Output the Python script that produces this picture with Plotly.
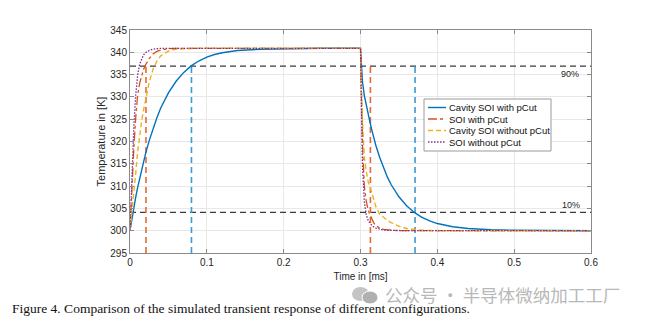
import plotly.graph_objects as go

# Sample times (ms) shared by all four transient curves
t_ms = [0, 0.0025, 0.005, 0.0075, 0.01, 0.0125, 0.015, 0.0175, 0.02, 0.025, 0.03, 0.035,
        0.04, 0.05, 0.06, 0.07, 0.08, 0.09, 0.1, 0.11, 0.12, 0.14, 0.17, 0.2, 0.25, 0.3,
        0.3025, 0.305, 0.3075, 0.31, 0.3125, 0.315, 0.3175, 0.32, 0.325, 0.33, 0.335, 0.34,
        0.35, 0.36, 0.37, 0.38, 0.39, 0.4, 0.42, 0.44, 0.47, 0.5, 0.55, 0.6]

# Temperatures in K
cavity_soi_pcut = [300, 302.8, 305.3, 307.6, 309.7, 311.7, 313.6, 315.4, 317.1, 320.2, 322.9, 325.3,
                   327.5, 330.9, 333.5, 335.5, 337.0, 338.1, 338.9, 339.5, 339.9, 340.4, 340.7, 340.8, 340.9, 340.9,
                   333.5, 330.3, 328.0, 326.0, 324.2, 322.4, 320.6, 319.1, 316.4, 314.0, 312.0, 310.3,
                   307.6, 305.6, 304.1, 303.0, 302.2, 301.6, 300.9, 300.5, 300.2, 300.1, 300.0, 300.0]

soi_pcut = [300, 310.0, 318.5, 325.5, 330.5, 333.0, 334.8, 336.1, 337.1, 338.6, 339.6, 340.2,
            340.5, 340.8, 340.9, 340.9, 340.9, 340.9, 340.9, 340.9, 340.9, 340.9, 340.9, 340.9, 340.9, 340.9,
            320.0, 310.0, 306.6, 304.6, 303.5, 302.5, 301.7, 301.1, 300.6, 300.3, 300.2, 300.1,
            300.0, 300.0, 300.0, 300.0, 300.0, 300.0, 300.0, 300.0, 300.0, 300.0, 300.0, 300.0]

cavity_soi_no_pcut = [300, 304.0, 308.0, 313.0, 317.8, 321.5, 324.4, 326.9, 329.2, 333.3, 336.2, 338.0,
                      339.2, 340.3, 340.7, 340.8, 340.9, 340.9, 340.9, 340.9, 340.9, 340.9, 340.9, 340.9, 340.9, 340.9,
                      325.0, 316.5, 313.3, 311.0, 309.8, 308.3, 306.9, 305.4, 303.7, 302.9, 302.3, 301.8,
                      301.0, 300.5, 300.25, 300.1, 300.05, 300.0, 300.0, 300.0, 300.0, 300.0, 300.0, 300.0]

soi_no_pcut = [300, 313.0, 323.5, 330.5, 335.0, 337.3, 338.6, 339.4, 339.9, 340.4, 340.7, 340.8,
               340.9, 340.9, 340.9, 340.9, 340.9, 340.9, 340.9, 340.9, 340.9, 340.9, 340.9, 340.9, 340.9, 340.9,
               315.0, 306.5, 303.6, 302.3, 301.6, 301.1, 300.8, 300.6, 300.3, 300.15, 300.1, 300.05,
               300.0, 300.0, 300.0, 300.0, 300.0, 300.0, 300.0, 300.0, 300.0, 300.0, 300.0, 300.0]

series_names = ["Cavity SOI with pCut", "SOI with pCut", "Cavity SOI without pCut", "SOI without pCut"]

# Threshold levels (K) and the crossing times marked with vertical guides (ms)
level_90 = 336.9
level_10 = 304.1
cross_times_cavity_pcut = [0.08, 0.371]
cross_times_soi_pcut = [0.0208, 0.3129]
y_floor = 295

x_ticks = [0, 0.1, 0.2, 0.3, 0.4, 0.5, 0.6]
y_ticks = [295, 300, 305, 310, 315, 320, 325, 330, 335, 340, 345]

BLUE = "#0072BD"
ORANGE = "#D95319"
YELLOW = "#EDB120"
PURPLE = "#7E2F8E"

W, H = 647, 326
ML, MR, MT, MB = 130, 56, 30, 73
PW, PH = W - ML - MR, H - MT - MB
FONT = "Liberation Sans, Arial"


def px_x(x):
    return (x - ML) / PW


def px_y(y):
    return (H - MB - y) / PH


fig = go.Figure()

# Threshold guides drawn first so the curves sit on top
for lvl in (level_90, level_10):
    fig.add_trace(go.Scatter(x=[x_ticks[0], x_ticks[-1]], y=[lvl, lvl], mode="lines",
                             line=dict(color="#3a3a3a", width=1.3, dash="6px,4px"),
                             showlegend=False, hoverinfo="skip"))
for tx in cross_times_cavity_pcut:
    fig.add_trace(go.Scatter(x=[tx, tx], y=[y_floor, level_90], mode="lines",
                             line=dict(color="#3b9ad9", width=1.6, dash="6px,4px"),
                             showlegend=False, hoverinfo="skip"))
for tx in cross_times_soi_pcut:
    fig.add_trace(go.Scatter(x=[tx, tx], y=[y_floor, level_90], mode="lines",
                             line=dict(color="#e36a33", width=1.6, dash="6px,4px"),
                             showlegend=False, hoverinfo="skip"))

styles = [
    dict(color=BLUE, width=1.4),
    dict(color=ORANGE, width=1.3, dash="dashdot"),
    dict(color=YELLOW, width=1.4, dash="5px,3px"),
    dict(color=PURPLE, width=1.3, dash="1.5px,1.5px"),
]
for name, temps, st in zip(series_names,
                           [cavity_soi_pcut, soi_pcut, cavity_soi_no_pcut, soi_no_pcut], styles):
    fig.add_trace(go.Scatter(x=t_ms, y=temps, mode="lines", name=name, line=st,
                             showlegend=False))

axis_common = dict(showline=True, linecolor="#8a8a8a", linewidth=1, mirror="ticks",
                   ticks="inside", ticklen=4, tickcolor="#8a8a8a",
                   showgrid=True, gridcolor="#e8e8e8", gridwidth=1, zeroline=False,
                   tickfont=dict(family=FONT, size=10, color="#262626"))

fig.update_xaxes(range=[0, 0.6], tickvals=x_ticks, ticktext=[f"{v:g}" for v in x_ticks],
                 title=dict(text="Time in [ms]", standoff=5,
                            font=dict(family=FONT, size=10, color="#262626")),
                 **axis_common)
fig.update_yaxes(range=[295, 345], tickvals=y_ticks,
                 title=dict(text="Temperature in [K]", standoff=2,
                            font=dict(family=FONT, size=11, color="#262626")),
                 **axis_common)

annotations = [
    dict(x=0.6, y=level_90, xref="x", yref="y", text="90%", showarrow=False,
         xanchor="right", yanchor="top", xshift=-10, yshift=-1,
         font=dict(family=FONT, size=9, color="#262626")),
    dict(x=0.6, y=level_10, xref="x", yref="y", text="10%", showarrow=False,
         xanchor="right", yanchor="bottom", xshift=-9, yshift=0,
         font=dict(family=FONT, size=9, color="#262626")),
    dict(x=px_x(383), y=px_y(294), xref="paper", yref="paper",
         text="公众号 · 半导体微纳加工工厂", showarrow=False, xanchor="left", yanchor="middle",
         font=dict(family="Noto Sans CJK SC", size=17.5, color="#b8b8b8")),
    dict(x=px_x(10), y=px_y(308), xref="paper", yref="paper",
         text="Figure 4. Comparison of the simulated transient response of different configurations.",
         showarrow=False, xanchor="left", yanchor="middle",
         font=dict(family="Liberation Serif, Times New Roman", size=13.5, color="#111111")),
]

# Small chat-bubble badge beside the watermark text
shapes = [
    dict(type="circle", xref="paper", yref="paper", x0=px_x(352), x1=px_x(369),
         y0=px_y(301), y1=px_y(287), fillcolor="#c4c4c4", line=dict(width=0), layer="below"),
    dict(type="circle", xref="paper", yref="paper", x0=px_x(362), x1=px_x(378),
         y0=px_y(304), y1=px_y(291), fillcolor="#b0b0b0", line=dict(color="white", width=1), layer="below"),
]

# Compact boxed legend inside the axes
LEG_X0, LEG_X1, LEG_Y0, LEG_Y1 = 424, 551, 99, 151
row_y = [107.5, 119, 130.5, 142]
shapes.append(dict(type="rect", xref="paper", yref="paper",
                   x0=px_x(LEG_X0), x1=px_x(LEG_X1), y0=px_y(LEG_Y1), y1=px_y(LEG_Y0),
                   fillcolor="white", line=dict(color="#9a9a9a", width=1), layer="above"))
for name, st, ry in zip(series_names, styles, row_y):
    shapes.append(dict(type="line", xref="paper", yref="paper",
                       x0=px_x(428), x1=px_x(446), y0=px_y(ry), y1=px_y(ry),
                       line=dict(color=st["color"], width=st["width"], dash=st.get("dash", "solid")),
                       layer="above"))
    annotations.append(dict(x=px_x(447), y=px_y(ry), xref="paper", yref="paper", text=name,
                            showarrow=False, xanchor="left", yanchor="middle",
                            font=dict(family=FONT, size=9.5, color="#111111")))

fig.update_layout(
    width=W, height=H,
    margin=dict(l=ML, r=MR, t=MT, b=MB),
    paper_bgcolor="white", plot_bgcolor="white",
    showlegend=False,
    annotations=annotations,
    shapes=shapes,
)

fig.write_html("out.html")
